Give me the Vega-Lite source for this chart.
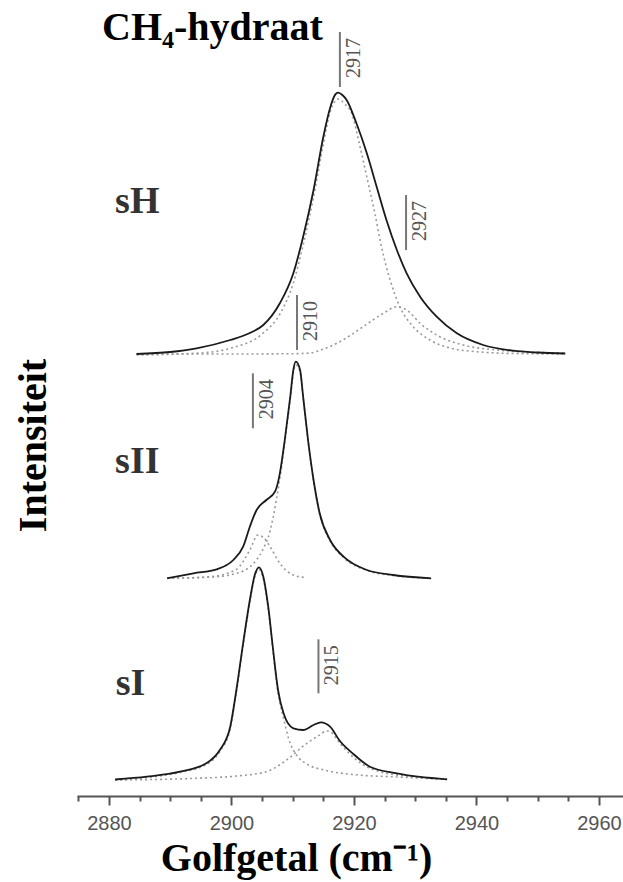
{
  "$schema": "https://vega.github.io/schema/vega-lite/v6.json",
  "width": 546,
  "height": 796,
  "autosize": {"type": "none"},
  "padding": {"left": 77, "top": 0, "right": 0, "bottom": 86},
  "background": "white",
  "config": {"view": {"stroke": null}},
  "title": {
    "text": "CH₄-hydraat",
    "anchor": "start",
    "frame": "group",
    "font": "Liberation Serif",
    "fontSize": 40,
    "fontWeight": "bold",
    "color": "black",
    "baseline": "alphabetic",
    "offset": 0,
    "dx": 25,
    "dy": 80
  },
  "datasets": {
    "curves": [
      {"g": "sH", "k": "main", "x": 2884.5, "y": 442},
      {"g": "sH", "k": "main", "x": 2890, "y": 444},
      {"g": "sH", "k": "main", "x": 2894.3, "y": 447.7},
      {"g": "sH", "k": "main", "x": 2899.8, "y": 456},
      {"g": "sH", "k": "main", "x": 2903, "y": 463},
      {"g": "sH", "k": "main", "x": 2905.2, "y": 471},
      {"g": "sH", "k": "main", "x": 2907.9, "y": 492.7},
      {"g": "sH", "k": "main", "x": 2910.1, "y": 522.7},
      {"g": "sH", "k": "main", "x": 2911.7, "y": 559.3},
      {"g": "sH", "k": "main", "x": 2913.4, "y": 606},
      {"g": "sH", "k": "main", "x": 2915.0, "y": 659.3},
      {"g": "sH", "k": "main", "x": 2916.1, "y": 688},
      {"g": "sH", "k": "main", "x": 2916.8, "y": 700},
      {"g": "sH", "k": "main", "x": 2917.4, "y": 703.3},
      {"g": "sH", "k": "main", "x": 2918.1, "y": 701},
      {"g": "sH", "k": "main", "x": 2918.8, "y": 696},
      {"g": "sH", "k": "main", "x": 2920.4, "y": 672.7},
      {"g": "sH", "k": "main", "x": 2922.1, "y": 642.7},
      {"g": "sH", "k": "main", "x": 2923.7, "y": 609.3},
      {"g": "sH", "k": "main", "x": 2925.3, "y": 576},
      {"g": "sH", "k": "main", "x": 2927.0, "y": 546},
      {"g": "sH", "k": "main", "x": 2928.6, "y": 522.7},
      {"g": "sH", "k": "main", "x": 2930.8, "y": 499.3},
      {"g": "sH", "k": "main", "x": 2933.5, "y": 479.3},
      {"g": "sH", "k": "main", "x": 2936.8, "y": 462.7},
      {"g": "sH", "k": "main", "x": 2941.1, "y": 451},
      {"g": "sH", "k": "main", "x": 2946.0, "y": 445.3},
      {"g": "sH", "k": "main", "x": 2950, "y": 443.5},
      {"g": "sH", "k": "main", "x": 2954.5, "y": 442.5},

      {"g": "sH-a", "k": "comp", "x": 2884.5, "y": 441},
      {"g": "sH-a", "k": "comp", "x": 2895, "y": 443},
      {"g": "sH-a", "k": "comp", "x": 2900, "y": 448},
      {"g": "sH-a", "k": "comp", "x": 2905, "y": 462},
      {"g": "sH-a", "k": "comp", "x": 2908, "y": 483},
      {"g": "sH-a", "k": "comp", "x": 2910.1, "y": 513},
      {"g": "sH-a", "k": "comp", "x": 2911.7, "y": 551},
      {"g": "sH-a", "k": "comp", "x": 2913.4, "y": 599},
      {"g": "sH-a", "k": "comp", "x": 2915, "y": 652},
      {"g": "sH-a", "k": "comp", "x": 2916.1, "y": 684},
      {"g": "sH-a", "k": "comp", "x": 2916.8, "y": 694},
      {"g": "sH-a", "k": "comp", "x": 2917.4, "y": 697},
      {"g": "sH-a", "k": "comp", "x": 2918.5, "y": 692},
      {"g": "sH-a", "k": "comp", "x": 2919.6, "y": 683},
      {"g": "sH-a", "k": "comp", "x": 2921.0, "y": 649},
      {"g": "sH-a", "k": "comp", "x": 2922.2, "y": 616},
      {"g": "sH-a", "k": "comp", "x": 2923.4, "y": 583},
      {"g": "sH-a", "k": "comp", "x": 2924.5, "y": 549},
      {"g": "sH-a", "k": "comp", "x": 2925.9, "y": 516},
      {"g": "sH-a", "k": "comp", "x": 2927.5, "y": 489},
      {"g": "sH-a", "k": "comp", "x": 2929.7, "y": 469},
      {"g": "sH-a", "k": "comp", "x": 2932.4, "y": 456},
      {"g": "sH-a", "k": "comp", "x": 2935.7, "y": 448},
      {"g": "sH-a", "k": "comp", "x": 2940.6, "y": 444},
      {"g": "sH-a", "k": "comp", "x": 2946, "y": 442.5},
      {"g": "sH-a", "k": "comp", "x": 2954.5, "y": 442},

      {"g": "sH-b", "k": "comp", "x": 2884.5, "y": 442},
      {"g": "sH-b", "k": "comp", "x": 2900, "y": 442},
      {"g": "sH-b", "k": "comp", "x": 2910, "y": 442.3},
      {"g": "sH-b", "k": "comp", "x": 2912.8, "y": 443},
      {"g": "sH-b", "k": "comp", "x": 2915, "y": 447},
      {"g": "sH-b", "k": "comp", "x": 2917.2, "y": 452.7},
      {"g": "sH-b", "k": "comp", "x": 2919.5, "y": 461},
      {"g": "sH-b", "k": "comp", "x": 2921.5, "y": 469.3},
      {"g": "sH-b", "k": "comp", "x": 2924.8, "y": 482.7},
      {"g": "sH-b", "k": "comp", "x": 2927.0, "y": 489.3},
      {"g": "sH-b", "k": "comp", "x": 2928.6, "y": 486},
      {"g": "sH-b", "k": "comp", "x": 2930.8, "y": 472.7},
      {"g": "sH-b", "k": "comp", "x": 2934.0, "y": 459.3},
      {"g": "sH-b", "k": "comp", "x": 2937.8, "y": 451},
      {"g": "sH-b", "k": "comp", "x": 2943.3, "y": 446},
      {"g": "sH-b", "k": "comp", "x": 2948, "y": 444},
      {"g": "sH-b", "k": "comp", "x": 2954.5, "y": 443},

      {"g": "sII", "k": "main", "x": 2889.5, "y": 217.7},
      {"g": "sII", "k": "main", "x": 2893.8, "y": 222.7},
      {"g": "sII", "k": "main", "x": 2897.6, "y": 226.7},
      {"g": "sII", "k": "main", "x": 2900.3, "y": 236},
      {"g": "sII", "k": "main", "x": 2901.9, "y": 249.3},
      {"g": "sII", "k": "main", "x": 2903.0, "y": 269.3},
      {"g": "sII", "k": "main", "x": 2904.1, "y": 286},
      {"g": "sII", "k": "main", "x": 2905.7, "y": 296},
      {"g": "sII", "k": "main", "x": 2907.1, "y": 304.3},
      {"g": "sII", "k": "main", "x": 2907.9, "y": 322.7},
      {"g": "sII", "k": "main", "x": 2908.7, "y": 356},
      {"g": "sII", "k": "main", "x": 2909.6, "y": 399.3},
      {"g": "sII", "k": "main", "x": 2910.1, "y": 426},
      {"g": "sII", "k": "main", "x": 2910.5, "y": 434.3},
      {"g": "sII", "k": "main", "x": 2911.2, "y": 426},
      {"g": "sII", "k": "main", "x": 2911.7, "y": 399.3},
      {"g": "sII", "k": "main", "x": 2912.5, "y": 356},
      {"g": "sII", "k": "main", "x": 2913.4, "y": 316},
      {"g": "sII", "k": "main", "x": 2914.4, "y": 282.7},
      {"g": "sII", "k": "main", "x": 2916.1, "y": 256},
      {"g": "sII", "k": "main", "x": 2918.3, "y": 239.3},
      {"g": "sII", "k": "main", "x": 2922.1, "y": 226},
      {"g": "sII", "k": "main", "x": 2926.4, "y": 221},
      {"g": "sII", "k": "main", "x": 2932.6, "y": 217.7},

      {"g": "sII-a", "k": "comp", "x": 2889.5, "y": 217.7},
      {"g": "sII-a", "k": "comp", "x": 2897, "y": 219},
      {"g": "sII-a", "k": "comp", "x": 2901, "y": 223},
      {"g": "sII-a", "k": "comp", "x": 2903.5, "y": 232},
      {"g": "sII-a", "k": "comp", "x": 2905, "y": 245},
      {"g": "sII-a", "k": "comp", "x": 2906.3, "y": 265},
      {"g": "sII-a", "k": "comp", "x": 2907.3, "y": 295},
      {"g": "sII-a", "k": "comp", "x": 2908.2, "y": 330},
      {"g": "sII-a", "k": "comp", "x": 2909, "y": 368},
      {"g": "sII-a", "k": "comp", "x": 2909.6, "y": 397},
      {"g": "sII-a", "k": "comp", "x": 2910.1, "y": 423},
      {"g": "sII-a", "k": "comp", "x": 2910.5, "y": 431},
      {"g": "sII-a", "k": "comp", "x": 2911.2, "y": 424},
      {"g": "sII-a", "k": "comp", "x": 2911.7, "y": 398},
      {"g": "sII-a", "k": "comp", "x": 2912.5, "y": 355},
      {"g": "sII-a", "k": "comp", "x": 2913.4, "y": 315},
      {"g": "sII-a", "k": "comp", "x": 2914.4, "y": 282},
      {"g": "sII-a", "k": "comp", "x": 2916.1, "y": 255},
      {"g": "sII-a", "k": "comp", "x": 2918.3, "y": 238.5},
      {"g": "sII-a", "k": "comp", "x": 2922.1, "y": 225.5},
      {"g": "sII-a", "k": "comp", "x": 2926.4, "y": 220.5},
      {"g": "sII-a", "k": "comp", "x": 2932.6, "y": 217.7},

      {"g": "sII-b", "k": "comp", "x": 2889.5, "y": 217.7},
      {"g": "sII-b", "k": "comp", "x": 2896.5, "y": 219.3},
      {"g": "sII-b", "k": "comp", "x": 2900.8, "y": 226.7},
      {"g": "sII-b", "k": "comp", "x": 2903.0, "y": 246},
      {"g": "sII-b", "k": "comp", "x": 2904.3, "y": 261},
      {"g": "sII-b", "k": "comp", "x": 2905.3, "y": 258},
      {"g": "sII-b", "k": "comp", "x": 2906.3, "y": 249.3},
      {"g": "sII-b", "k": "comp", "x": 2907.9, "y": 232.7},
      {"g": "sII-b", "k": "comp", "x": 2910.1, "y": 221},
      {"g": "sII-b", "k": "comp", "x": 2912, "y": 218.5},

      {"g": "sI", "k": "main", "x": 2881.0, "y": 16.5},
      {"g": "sI", "k": "main", "x": 2886.2, "y": 19.3},
      {"g": "sI", "k": "main", "x": 2891.6, "y": 24.3},
      {"g": "sI", "k": "main", "x": 2895.9, "y": 32.7},
      {"g": "sI", "k": "main", "x": 2898.1, "y": 46},
      {"g": "sI", "k": "main", "x": 2899.8, "y": 69.3},
      {"g": "sI", "k": "main", "x": 2900.8, "y": 106},
      {"g": "sI", "k": "main", "x": 2901.9, "y": 152.7},
      {"g": "sI", "k": "main", "x": 2903.0, "y": 196},
      {"g": "sI", "k": "main", "x": 2903.8, "y": 221},
      {"g": "sI", "k": "main", "x": 2904.5, "y": 228.7},
      {"g": "sI", "k": "main", "x": 2905.2, "y": 219.3},
      {"g": "sI", "k": "main", "x": 2906.0, "y": 189.3},
      {"g": "sI", "k": "main", "x": 2906.8, "y": 146},
      {"g": "sI", "k": "main", "x": 2907.6, "y": 106},
      {"g": "sI", "k": "main", "x": 2908.5, "y": 82.7},
      {"g": "sI", "k": "main", "x": 2910.1, "y": 67.7},
      {"g": "sI", "k": "main", "x": 2911.7, "y": 66},
      {"g": "sI", "k": "main", "x": 2913.4, "y": 71},
      {"g": "sI", "k": "main", "x": 2914.6, "y": 73.7},
      {"g": "sI", "k": "main", "x": 2916.1, "y": 69.3},
      {"g": "sI", "k": "main", "x": 2917.7, "y": 55},
      {"g": "sI", "k": "main", "x": 2919.9, "y": 42},
      {"g": "sI", "k": "main", "x": 2922.6, "y": 29.3},
      {"g": "sI", "k": "main", "x": 2927.0, "y": 22.7},
      {"g": "sI", "k": "main", "x": 2935.2, "y": 16.7},

      {"g": "sI-a", "k": "comp", "x": 2881.0, "y": 16},
      {"g": "sI-a", "k": "comp", "x": 2886.2, "y": 18.5},
      {"g": "sI-a", "k": "comp", "x": 2891.6, "y": 23.5},
      {"g": "sI-a", "k": "comp", "x": 2895.9, "y": 31.5},
      {"g": "sI-a", "k": "comp", "x": 2898.1, "y": 44.5},
      {"g": "sI-a", "k": "comp", "x": 2899.8, "y": 67.5},
      {"g": "sI-a", "k": "comp", "x": 2900.8, "y": 104},
      {"g": "sI-a", "k": "comp", "x": 2901.9, "y": 150.5},
      {"g": "sI-a", "k": "comp", "x": 2903.0, "y": 194},
      {"g": "sI-a", "k": "comp", "x": 2903.8, "y": 219},
      {"g": "sI-a", "k": "comp", "x": 2904.5, "y": 226.5},
      {"g": "sI-a", "k": "comp", "x": 2905.2, "y": 217},
      {"g": "sI-a", "k": "comp", "x": 2906.0, "y": 187},
      {"g": "sI-a", "k": "comp", "x": 2906.8, "y": 144},
      {"g": "sI-a", "k": "comp", "x": 2907.6, "y": 103},
      {"g": "sI-a", "k": "comp", "x": 2908.5, "y": 78},
      {"g": "sI-a", "k": "comp", "x": 2909.3, "y": 58},
      {"g": "sI-a", "k": "comp", "x": 2910.1, "y": 46},
      {"g": "sI-a", "k": "comp", "x": 2911, "y": 38},
      {"g": "sI-a", "k": "comp", "x": 2912.3, "y": 32},
      {"g": "sI-a", "k": "comp", "x": 2915.5, "y": 25.5},
      {"g": "sI-a", "k": "comp", "x": 2919.8, "y": 21.5},
      {"g": "sI-a", "k": "comp", "x": 2927, "y": 19},
      {"g": "sI-a", "k": "comp", "x": 2935.2, "y": 16.5},

      {"g": "sI-b", "k": "comp", "x": 2881.0, "y": 16},
      {"g": "sI-b", "k": "comp", "x": 2894.3, "y": 17.7},
      {"g": "sI-b", "k": "comp", "x": 2900.8, "y": 20},
      {"g": "sI-b", "k": "comp", "x": 2905.7, "y": 24.3},
      {"g": "sI-b", "k": "comp", "x": 2909.0, "y": 36},
      {"g": "sI-b", "k": "comp", "x": 2912.3, "y": 52.7},
      {"g": "sI-b", "k": "comp", "x": 2914.4, "y": 61},
      {"g": "sI-b", "k": "comp", "x": 2915.5, "y": 65},
      {"g": "sI-b", "k": "comp", "x": 2916.1, "y": 64.3},
      {"g": "sI-b", "k": "comp", "x": 2917.7, "y": 52.7},
      {"g": "sI-b", "k": "comp", "x": 2920.4, "y": 36},
      {"g": "sI-b", "k": "comp", "x": 2924.2, "y": 24.3},
      {"g": "sI-b", "k": "comp", "x": 2929.7, "y": 19.3},
      {"g": "sI-b", "k": "comp", "x": 2935.2, "y": 16.7}
    ],
    "peaks": [
      {"txt": "2917", "x": 2917.7, "y": 764, "y2": 709},
      {"txt": "2927", "x": 2928.5, "y": 601, "y2": 546},
      {"txt": "2910", "x": 2910.7, "y": 501, "y2": 446},
      {"txt": "2904", "x": 2903.5, "y": 422.7, "y2": 367.7},
      {"txt": "2915", "x": 2914.2, "y": 156.7, "y2": 102.7}
    ],
    "names": [
      {"txt": "sH", "x": 2881.0, "y": 583},
      {"txt": "sII", "x": 2881.0, "y": 323},
      {"txt": "sI", "x": 2881.1, "y": 101}
    ]
  },
  "encoding": {
    "x": {
      "field": "x",
      "type": "quantitative",
      "scale": {"domain": [2874.78, 2963.92], "nice": false, "zero": false},
      "axis": {
        "values": [2875, 2880, 2885, 2890, 2895, 2900, 2905, 2910, 2915, 2920, 2925, 2930, 2935, 2940, 2945, 2950, 2955, 2960],
        "format": "d",
        "labelExpr": "datum.value % 20 === 0 ? datum.label : ''",
        "tickSize": {"condition": {"test": "datum.value % 20 === 0", "value": 9}, "value": 5},
        "domainColor": "#555",
        "domainWidth": 2,
        "tickColor": "#555",
        "tickWidth": 2,
        "grid": false,
        "labelFont": "Liberation Sans",
        "labelFontSize": 20,
        "labelColor": "#555",
        "labelPadding": 8,
        "labelFlush": false,
        "labelOverlap": false,
        "title": "Golfgetal (cm⁻¹)",
        "titleFont": "Liberation Serif",
        "titleFontSize": 40,
        "titleFontWeight": "bold",
        "titleColor": "black",
        "titleX": 219,
        "titleY": 74,
        "titleAlign": "center",
        "titleBaseline": "alphabetic"
      }
    },
    "y": {
      "field": "y",
      "type": "quantitative",
      "scale": {"domain": [0, 796], "nice": false, "zero": false},
      "axis": {
        "domain": false,
        "ticks": false,
        "labels": false,
        "grid": false,
        "title": "Intensiteit",
        "titleFont": "Liberation Serif",
        "titleFontSize": 40,
        "titleFontWeight": "bold",
        "titleColor": "black",
        "titleAngle": 270,
        "titleX": -32,
        "titleY": 445,
        "titleAlign": "center",
        "titleBaseline": "alphabetic"
      }
    }
  },
  "layer": [
    {
      "data": {"name": "curves"},
      "transform": [{"filter": "datum.k === 'comp'"}],
      "mark": {"type": "line", "color": "#9a9a9a", "strokeWidth": 1.6, "strokeDash": [2, 3], "interpolate": "monotone"},
      "encoding": {"detail": {"field": "g"}, "order": {"field": "x"}}
    },
    {
      "data": {"name": "curves"},
      "transform": [{"filter": "datum.k === 'main'"}],
      "mark": {"type": "line", "color": "#1a1a1a", "strokeWidth": 1.8, "interpolate": "monotone"},
      "encoding": {"detail": {"field": "g"}, "order": {"field": "x"}}
    },
    {
      "data": {"name": "peaks"},
      "mark": {"type": "rule", "color": "#777", "strokeWidth": 2},
      "encoding": {"y2": {"field": "y2"}}
    },
    {
      "data": {"name": "peaks"},
      "mark": {"type": "text", "angle": 270, "align": "right", "baseline": "top", "dx": -6, "dy": 4, "font": "Liberation Serif", "fontSize": 20, "color": "#555"},
      "encoding": {"text": {"field": "txt"}}
    },
    {
      "data": {"name": "names"},
      "mark": {"type": "text", "align": "left", "baseline": "alphabetic", "font": "Liberation Serif", "fontSize": 38, "fontWeight": "bold", "color": "#333"},
      "encoding": {"text": {"field": "txt"}}
    }
  ]
}
